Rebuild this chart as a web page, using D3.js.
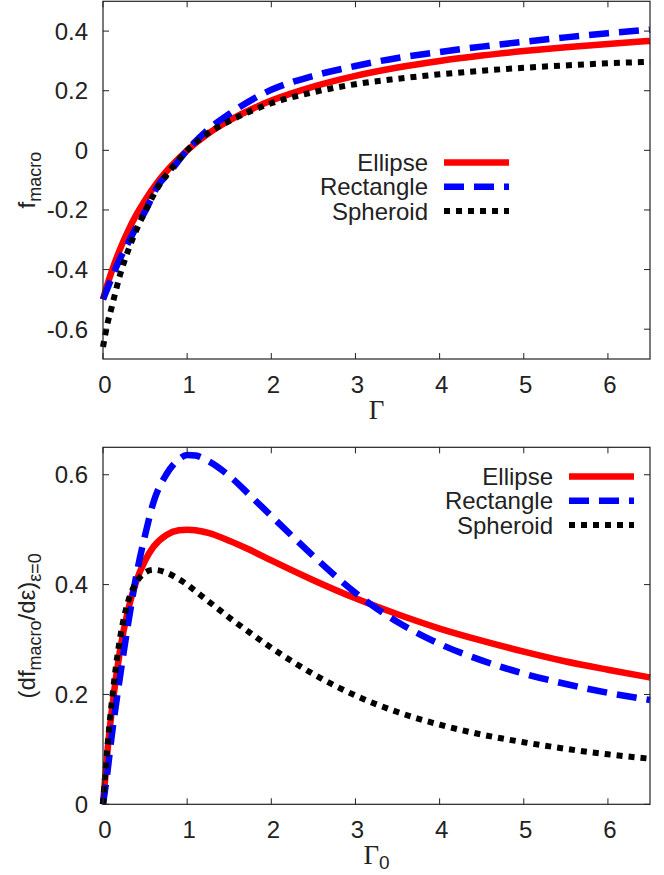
<!DOCTYPE html>
<html>
<head>
<meta charset="utf-8">
<script src="https://cdn.jsdelivr.net/npm/d3@7"></script>
<style>
  body { margin: 0; background: #fff; }
  svg { display: block; }
  text { font-family: "Liberation Sans", Arial, Helvetica, sans-serif; fill: #222; }
</style>
</head>
<body>
<div id="chart"></div>
<script>
// values
var gammaTop = [0, 0.05, 0.1, 0.2, 0.3, 0.4, 0.5, 0.65, 0.8, 1, 1.25, 1.5, 2, 2.5, 3, 3.5, 4, 4.5, 5, 5.5, 6, 6.5];
var ellipseTop = [-0.5, -0.452, -0.409, -0.333, -0.269, -0.214, -0.167, -0.106, -0.056, 0, 0.056, 0.1, 0.167, 0.214, 0.25, 0.278, 0.3, 0.318, 0.333, 0.346, 0.357, 0.367];
var rectangleTop = [-0.5, -0.465, -0.43, -0.365, -0.31, -0.255, -0.205, -0.12, -0.07, 0, 0.07, 0.122, 0.203, 0.25, 0.283, 0.31, 0.33, 0.348, 0.364, 0.379, 0.393, 0.405];
var spheroidTop = [-0.66, -0.585, -0.53, -0.42, -0.335, -0.265, -0.205, -0.125, -0.066, 0, 0.058, 0.098, 0.158, 0.195, 0.222, 0.24, 0.255, 0.267, 0.277, 0.285, 0.292, 0.297];

var gammaBot = [0, 0.05, 0.1, 0.2, 0.3, 0.4, 0.5, 0.6, 0.75, 0.9, 1, 1.1, 1.25, 1.5, 1.75, 2, 2.5, 3, 3.5, 4, 4.5, 5, 5.5, 6, 6.5];
var ellipseBot = [0, 0.091, 0.165, 0.278, 0.355, 0.408, 0.444, 0.469, 0.49, 0.499, 0.5, 0.499, 0.494, 0.48, 0.463, 0.444, 0.408, 0.375, 0.346, 0.32, 0.298, 0.278, 0.26, 0.245, 0.231];
var rectangleBot = [0, 0.055, 0.12, 0.23, 0.33, 0.42, 0.49, 0.55, 0.6, 0.628, 0.636, 0.635, 0.625, 0.598, 0.562, 0.525, 0.452, 0.385, 0.332, 0.292, 0.262, 0.238, 0.219, 0.203, 0.19];
var spheroidBot = [0, 0.1, 0.18, 0.3, 0.37, 0.405, 0.422, 0.427, 0.422, 0.41, 0.4, 0.388, 0.37, 0.34, 0.312, 0.285, 0.237, 0.198, 0.168, 0.145, 0.127, 0.113, 0.101, 0.091, 0.083];

var xTicks = [0, 1, 2, 3, 4, 5, 6];
var yTicksTop = [-0.6, -0.4, -0.2, 0, 0.2, 0.4];
var yTicksBot = [0, 0.2, 0.4, 0.6];
var seriesNames = ["Ellipse", "Rectangle", "Spheroid"];

var styles = [
  {color: "#ff0000", dash: null, width: 6.5},
  {color: "#0000ff", dash: "20,10", width: 6.5},
  {color: "#000000", dash: "6,6", width: 6}
];

var W = 664, H = 875;
var svg = d3.select("#chart").append("svg").attr("width", W).attr("height", H);

function fmt(v) { return v === 0 ? "0" : d3.format(".1f")(v).replace("\u2212", "-"); }

function drawPanel(p) {
  var x = d3.scaleLinear().domain([0, 6.5]).range([p.left, p.right]);
  var y = d3.scaleLinear().domain(p.yDomain).range([p.bottom, p.top]);
  var g = svg.append("g");
  var tl = 6;

  // curves
  var line = d3.line().curve(d3.curveMonotoneX)
    .x(function(d) { return x(d[0]); })
    .y(function(d) { return y(d[1]); });
  p.series.forEach(function(s, i) {
    var pts = p.xs.map(function(v, j) { return [v, s[j]]; });
    g.append("path").datum(pts)
      .attr("d", line)
      .attr("fill", "none")
      .attr("stroke", styles[i].color)
      .attr("stroke-width", styles[i].width)
      .attr("stroke-dasharray", styles[i].dash);
  });

  // frame + mirrored inward ticks
  g.append("rect").attr("x", p.left).attr("y", p.top)
    .attr("width", p.right - p.left).attr("height", p.bottom - p.top)
    .attr("fill", "none").attr("stroke", "#222").attr("stroke-width", 1.2);
  xTicks.forEach(function(t) {
    g.append("line").attr("x1", x(t)).attr("x2", x(t)).attr("y1", p.bottom).attr("y2", p.bottom - tl).attr("stroke", "#222");
    g.append("line").attr("x1", x(t)).attr("x2", x(t)).attr("y1", p.top).attr("y2", p.top + tl).attr("stroke", "#222");
    g.append("text").attr("x", x(t) + 2).attr("y", p.bottom + 34)
      .attr("text-anchor", "middle").attr("font-size", 24).text(t);
  });
  p.yTicks.forEach(function(t) {
    g.append("line").attr("x1", p.left).attr("x2", p.left + tl).attr("y1", y(t)).attr("y2", y(t)).attr("stroke", "#222");
    g.append("line").attr("x1", p.right).attr("x2", p.right - tl).attr("y1", y(t)).attr("y2", y(t)).attr("stroke", "#222");
    g.append("text").attr("x", p.left - 15).attr("y", y(t) + 8.5)
      .attr("text-anchor", "end").attr("font-size", 24).text(fmt(t));
  });

  // x label
  var xl = g.append("text").attr("x", (p.left + p.right) / 2).attr("y", p.bottom + 60)
    .attr("text-anchor", "middle");
  xl.append("tspan").attr("font-family", "'Liberation Serif', 'Times New Roman', serif").attr("font-size", 27).text("\u0393");
  if (p.xSub) xl.append("tspan").attr("font-size", 19).attr("dy", 5).text(p.xSub);

  // y label
  var yl = g.append("text")
    .attr("transform", "translate(35," + (p.top + p.bottom) / 2 + ") rotate(-90)")
    .attr("text-anchor", "middle").attr("font-size", 24);
  p.yLabel.forEach(function(part) {
    var ts = yl.append("tspan").text(part.t);
    if (part.sub) ts.attr("font-size", 18).attr("dy", 6);
    else if (part.up) ts.attr("dy", -6);
  });

  // legend
  seriesNames.forEach(function(name, i) {
    var ly = p.legY + i * 24.3;
    g.append("text").attr("x", p.legX).attr("y", ly + 8.5)
      .attr("text-anchor", "end").attr("font-size", 24).text(name);
    g.append("line").attr("x1", p.legX + 16).attr("x2", p.legX + 81)
      .attr("y1", ly).attr("y2", ly)
      .attr("stroke", styles[i].color).attr("stroke-width", styles[i].width)
      .attr("stroke-dasharray", styles[i].dash);
  });
}

drawPanel({
  left: 103, right: 650, top: 1.3, bottom: 359,
  yDomain: [-0.7, 0.5], yTicks: yTicksTop,
  xs: gammaTop, series: [ellipseTop, rectangleTop, spheroidTop],
  xSub: null,
  yLabel: [{t: "f"}, {t: "macro", sub: true}],
  legX: 428, legY: 162.5
});

drawPanel({
  left: 103, right: 650, top: 447.3, bottom: 804.3,
  yDomain: [0, 0.65], yTicks: yTicksBot,
  xs: gammaBot, series: [ellipseBot, rectangleBot, spheroidBot],
  xSub: "0",
  yLabel: [{t: "(df"}, {t: "macro", sub: true}, {t: "/d\u03b5)", up: true}, {t: "\u03b5=0", sub: true}],
  legX: 553, legY: 476.4
});
</script>
</body>
</html>
